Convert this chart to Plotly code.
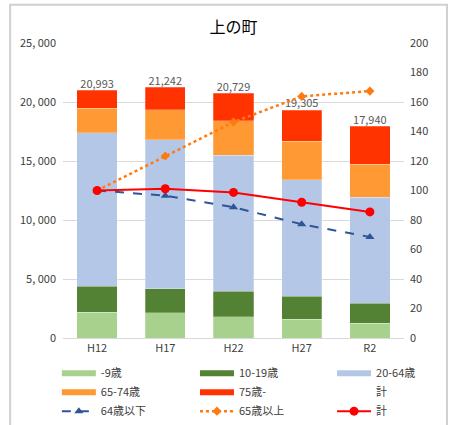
import plotly.graph_objects as go

categories = ["H12", "H17", "H22", "H27", "R2"]
age_0_9 = [2170, 2120, 1800, 1580, 1240]
age_10_19 = [2200, 2060, 2150, 1950, 1690]
age_20_64 = [13030, 12620, 11520, 9890, 8990]
age_65_74 = [2090, 2550, 2950, 3240, 2790]
age_75_up = [1503, 1892, 2309, 2645, 3230]
totals = [20993, 21242, 20729, 19305, 17940]
idx_under64 = [100, 96.5, 88.7, 77.1, 68.5]
idx_over65 = [100, 123.4, 146.4, 163.8, 167.4]
idx_total = [100, 101.2, 98.7, 92.0, 85.5]
left_ticks = [0, 5000, 10000, 15000, 20000, 25000]
left_ticktext = ["0", "5, 000", "10, 000", "15, 000", "20, 000", "25, 000"]

FONT = "Noto Sans CJK JP"
fig = go.Figure()

bar_series = [
    ("-9歳", age_0_9, "#A9D18E"),
    ("10-19歳", age_10_19, "#548235"),
    ("20-64歳", age_20_64, "#B4C7E7"),
    ("65-74歳", age_65_74, "#FF9933"),
    ("75歳-", age_75_up, "#FF3300"),
]
for name, vals, col in bar_series:
    fig.add_trace(go.Bar(x=categories, y=vals, name=name,
                         marker=dict(color=col, line=dict(color="rgba(255,255,255,0.5)", width=0.5)),
                         showlegend=False, yaxis="y"))

# total labels
fig.add_trace(go.Scatter(x=categories, y=totals, mode="text", text=[f"{v:,}" for v in totals],
                         textposition="top center", textfont=dict(color="#595959", size=11, family=FONT),
                         showlegend=False, yaxis="y", cliponaxis=False))

legend_of = {"-9歳": "legend", "65-74歳": "legend", "10-19歳": "legend2", "75歳-": "legend2",
             "20-64歳": "legend3"}
# legend proxies for bars
for name, vals, col in bar_series:
    fig.add_trace(go.Scatter(x=[None], y=[None], mode="lines", name=name, line=dict(color=col, width=6),
                             yaxis="y", legend=legend_of[name]))
fig.add_trace(go.Scatter(x=[None], y=[None], mode="lines", name="計", line=dict(color="rgba(0,0,0,0)", width=6),
                         yaxis="y", legend="legend3"))

fig.add_trace(go.Scatter(x=categories, y=idx_under64, name="64歳以下", mode="lines+markers", yaxis="y2",
                         line=dict(color="#2F5597", width=2, dash="dash"),
                         marker=dict(symbol="triangle-up", size=8, color="#2F5597"), legend="legend"))
fig.add_trace(go.Scatter(x=categories, y=idx_over65, name="65歳以上", mode="lines+markers", yaxis="y2",
                         line=dict(color="#FF7A10", width=2.5, dash="dot"),
                         marker=dict(symbol="diamond", size=7, color="#FF7A10"), legend="legend2"))
fig.add_trace(go.Scatter(x=categories, y=idx_total, name="計", mode="lines+markers", yaxis="y2",
                         line=dict(color="#FF0000", width=2),
                         marker=dict(symbol="circle", size=9, color="#FF0000"), legend="legend3"))

leg_common = dict(orientation="v", y=-0.07, xanchor="left", yanchor="top", bgcolor="rgba(0,0,0,0)",
                  font=dict(size=11, color="#404040", family=FONT), traceorder="normal",
                  tracegroupgap=0, itemwidth=34)

fig.update_layout(
    width=450, height=425,
    margin=dict(l=63, r=46, t=43, b=87, autoexpand=False),
    paper_bgcolor="white", plot_bgcolor="white",
    barmode="stack", bargap=0.41,
    font=dict(family=FONT, color="#404040", size=11),
    title=dict(text="上の町", x=0.5, xref="paper", xanchor="center", y=0.935, yref="container", yanchor="middle",
               font=dict(size=16, color="#000000", family=FONT)),
    xaxis=dict(showgrid=False, showline=True, linecolor="#D9D9D9", ticks="", tickfont=dict(size=11)),
    yaxis=dict(range=[0, 25000], tickvals=left_ticks, ticktext=left_ticktext, showgrid=True, gridcolor="#D9D9D9",
               zeroline=False, ticks="", tickfont=dict(size=11), ticklabelstandoff=6),
    yaxis2=dict(range=[0, 200], dtick=20, overlaying="y", side="right", showgrid=False, zeroline=False,
                ticks="", tickfont=dict(size=11), ticklabelstandoff=5),
    legend=dict(x=-0.018, **leg_common),
    legend2=dict(x=0.387, **leg_common),
    legend3=dict(x=0.789, **leg_common),
    shapes=[dict(type="rect", xref="paper", yref="paper", x0=-0.155, x1=1.126, y0=-0.35, y1=1.13,
                 line=dict(color="#D0D0D0", width=2), fillcolor="rgba(0,0,0,0)", layer="above")],
)

fig.write_html("out.html", config={"displayModeBar": False},
               post_script="document.body.style.margin='0';")
